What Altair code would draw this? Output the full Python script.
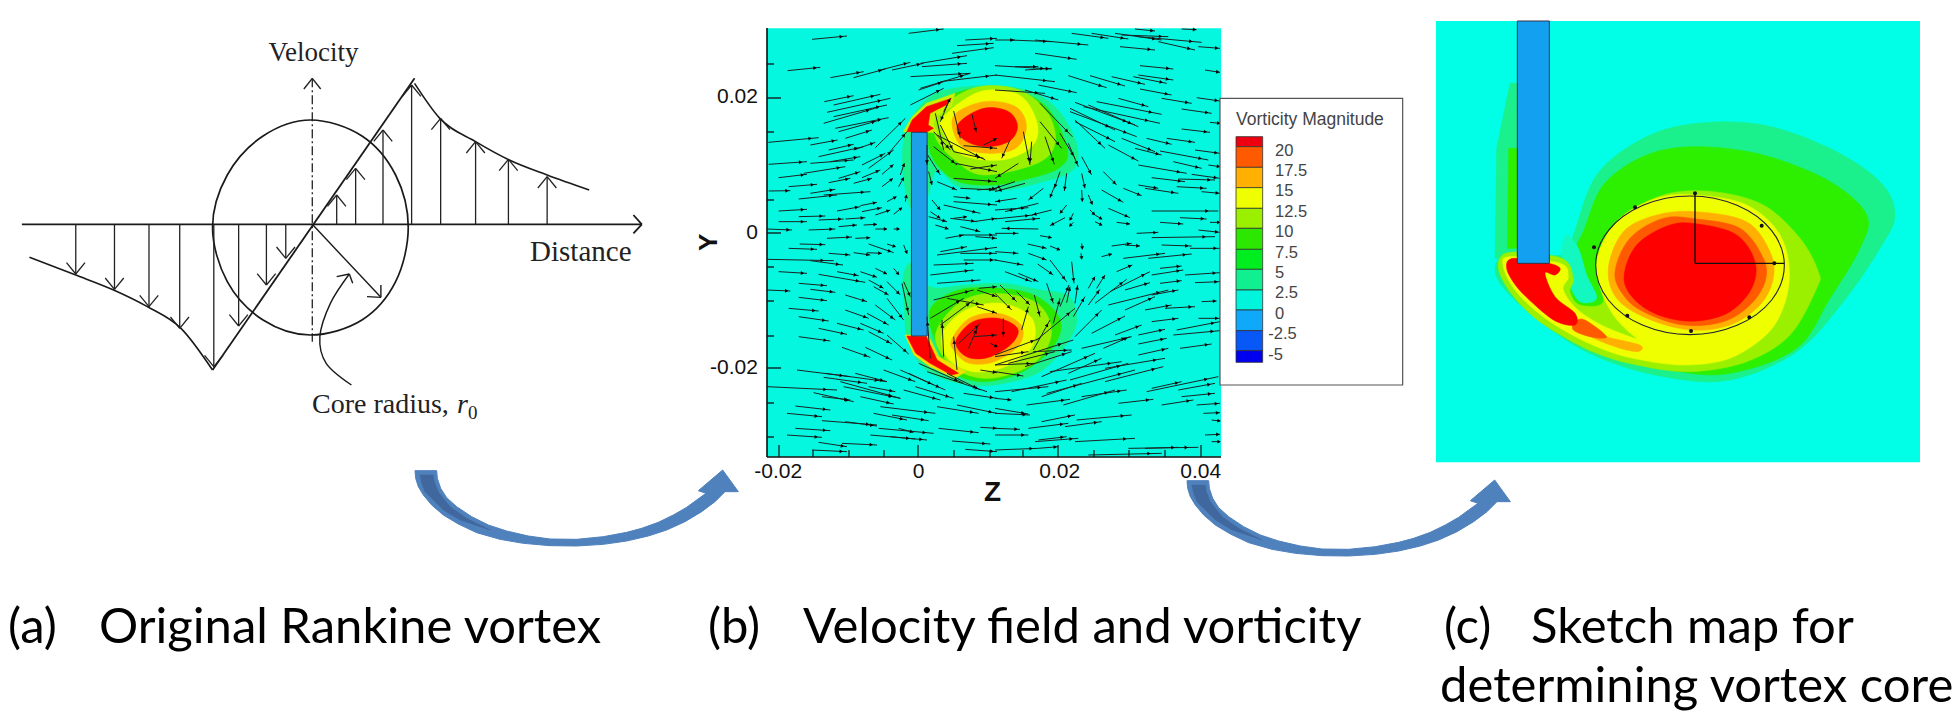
import math
import altair as alt
import pandas as pd

# ---------- panel (a): readings in the crop's own units ----------
A_AXIS = [(52, 613, 1525, 613), (1505, 585, 1525, 613), (1505, 640, 1525, 613)]
A_VAXIS_HEAD = [(722, 207, 742, 175), (762, 207, 742, 175)]
A_VAXIS = [(742, 175), (742, 965)]
A_CIRCLE = [(970, 622), (940, 465), (860, 348), (738, 300), (625, 348), (540, 465), (505, 622),
            (540, 785), (625, 900), (738, 945), (860, 900), (940, 785)]
A_LEFT_CURVE = [(70, 712), (180, 765), (270, 810), (350, 860), (430, 925), (505, 1050)]
A_RIGHT_CURVE = [(985, 190), (1045, 295), (1130, 365), (1210, 420), (1300, 465), (1400, 510)]
A_DIAG = [(505, 1050), (985, 175)]
A_UP = [(800, 525), (845, 445), (910, 330), (978, 195), (1047, 295), (1130, 365), (1208, 418), (1300, 470)]
A_DOWN = [(180, 762), (272, 808), (354, 860), (427, 925), (508, 1040), (567, 918), (633, 795), (679, 715)]
A_RADIUS = [(742, 613, 905, 832), (905, 795, 905, 832), (872, 830, 905, 832)]
A_LEADER = [(835, 1095), (775, 1030), (760, 950), (785, 850), (830, 762)]
A_LEADER_HEAD = [(800, 770, 830, 762), (838, 790, 830, 762)]

# ---------- panel (b) ----------
B_FRAME = [(243, 55, 1515, 1340)]
B_BLADE = [(648, 367, 692, 978)]
B_TICKS_MAJOR_X = [779, 918, 1058, 1201]
B_TICKS_MINOR_X = [813, 849, 884, 954, 990, 1023, 1094, 1129, 1165]
B_TICKS_MAJOR_Y = [98, 233, 368]
B_TICKS_MINOR_Y = [64, 132, 200, 267, 301, 336, 403, 437]
B_CONTOURS = [
    ("#1AF08C", [(625, 400), (640, 340), (700, 260), (800, 230), (950, 235), (1050, 290), (1110, 400), (1100, 480),
                 (1000, 520), (900, 540), (780, 530), (720, 480), (692, 560), (650, 600), (625, 500)]),
    ("#1AF08C", [(625, 800), (650, 760), (700, 830), (800, 825), (900, 820), (1010, 840), (1090, 860), (1110, 940), (1070, 1020),
                 (1000, 1090), (880, 1125), (780, 1120), (690, 1080), (640, 1000), (628, 900)]),
    ("#2CE800", [(700, 300), (800, 240), (930, 240), (1030, 295), (1085, 420), (1060, 475), (980, 505), (880, 525),
                 (780, 515), (720, 465), (695, 400)]),
    ("#2CE800", [(700, 900), (780, 840), (900, 835), (1000, 860), (1065, 930), (1045, 1010), (960, 1085), (850, 1115),
                 (760, 1085), (720, 1010)]),
    ("#9BF000", [(725, 300), (830, 232), (950, 240), (1030, 310), (1050, 400), (1000, 460), (850, 495), (770, 450), (715, 380)]),
    ("#9BF000", [(715, 980), (780, 880), (880, 850), (1000, 880), (1040, 970), (990, 1060), (870, 1105), (770, 1075)]),
    ("#F0FF00", [(738, 320), (840, 245), (950, 255), (1000, 340), (985, 410), (900, 450), (790, 435), (738, 370)]),
    ("#F0FF00", [(735, 970), (800, 900), (900, 880), (985, 925), (985, 1010), (910, 1070), (820, 1085), (750, 1045)]),
    ("#FFB000", [(765, 320), (850, 275), (940, 290), (970, 350), (940, 415), (860, 430), (785, 405)]),
    ("#FFB000", [(760, 990), (810, 925), (890, 910), (955, 945), (950, 1005), (880, 1055), (810, 1060), (770, 1025)]),
    ("#FF0000", [(780, 340), (850, 295), (920, 305), (945, 350), (920, 395), (850, 410), (790, 385)]),
    ("#FF0000", [(775, 985), (820, 935), (890, 925), (945, 955), (930, 1000), (870, 1040), (815, 1045), (780, 1020)]),
]
B_TIPS = [
    ("#C8F000", [(625, 365), (650, 320), (690, 280), (770, 250), (760, 290), (715, 320), (710, 345), (720, 368)]),
    ("#FF0000", [(635, 365), (650, 330), (690, 290), (760, 265), (745, 285), (700, 310), (695, 345), (710, 355), (690, 367)]),
    ("#F0E000", [(630, 975), (695, 975), (725, 1040), (800, 1085), (770, 1105), (700, 1070), (655, 1035)]),
    ("#FF0000", [(635, 978), (690, 980), (720, 1050), (780, 1090), (760, 1095), (700, 1060), (660, 1030)]),
]
# velocity vectors, one list per quarter of the panel
B_ARROWS_TL = [
    (135,43,240,33),(425,25,530,12),(62,137,160,127),(190,158,290,140),(260,158,355,132),(340,135,430,112),(375,135,470,115),
    (460,115,600,92),(465,125,600,115),(430,155,610,145),(460,190,610,145),(455,195,530,170),(430,240,530,190),(520,170,690,150),
    (595,45,690,40),(570,62,680,55),(555,85,680,68),(172,230,260,212),(200,240,340,208),(180,262,370,220),(200,275,360,240),
    (170,295,330,248),(205,310,365,278),(215,320,340,285),(235,340,315,315),(4,352,155,338),(130,360,212,345),(185,375,260,358),
    (155,395,290,365),(260,375,325,352),(130,415,260,405),(5,418,120,410),(190,410,280,395),(285,420,355,385),(325,368,415,280),
    (365,385,420,320),(305,430,380,375),(345,448,380,418),(400,450,412,415),(35,458,120,448),(110,445,235,425),(185,473,250,460),
    (215,460,280,440),(285,458,340,435),(260,475,315,460),(345,485,378,460),(395,485,410,458),(65,485,150,478),(5,498,70,497),
    (130,505,205,493),(95,522,210,510),(170,510,310,500),(360,530,388,515),(415,530,418,512),(35,558,120,553),(210,558,280,545),
    (280,542,330,532),(285,560,345,548),(325,570,370,555),(380,568,405,548),(95,575,175,573),(35,590,120,590),(155,585,230,582),
    (235,582,295,578),(215,605,270,600),(290,600,330,598),(125,615,205,612),(0,612,75,615),(325,612,360,612),(380,612,395,612),
    (180,640,255,636),(265,640,310,638),(560,258,580,340),(615,268,628,322),(590,362,690,370),(650,360,690,340),(505,265,530,375),
    (530,260,550,220),(500,320,550,375),(520,300,560,380),(510,330,655,405),(500,365,570,420),(560,380,650,400),(545,230,520,290),
    (565,415,690,440),(610,432,690,420),(480,360,480,420),(482,390,520,450),(485,440,495,480),(510,470,570,495),(560,460,690,470),
    (580,490,690,495),(630,495,690,490),(560,515,610,520),(560,530,690,540),(530,540,640,565),(495,525,520,555),(490,560,520,580),
    (485,575,540,590),(550,580,630,590),(620,590,690,580),(505,600,545,612),(560,580,600,575),(580,630,690,630),(625,635,690,640),
    (535,640,590,630),(580,605,640,620),
]
B_ARROWS_TR = [
    (0,45,60,45),(45,45,170,50),(120,45,280,60),(230,25,340,40),(290,25,400,42),(360,25,500,45),(420,12,480,18),(560,12,605,14),
    (380,30,520,35),(430,35,620,52),(490,50,600,75),(610,65,675,70),(375,65,480,75),(120,85,245,103),(0,122,170,132),(60,125,130,125),
    (0,150,180,170),(90,135,170,130),(630,135,675,142),(435,122,535,132),(220,152,335,188),(285,152,390,183),(350,155,450,178),
    (430,150,535,165),(415,155,515,175),(435,192,530,210),(500,220,590,235),(605,218,675,228),(0,195,150,205),(130,180,245,203),
    (90,195,190,225),(370,220,460,245),(305,230,500,268),(560,252,650,265),(240,232,420,300),(265,245,495,295),(280,240,430,305),
    (225,250,360,315),(225,260,425,335),(240,285,330,370),(135,235,232,335),(240,290,360,350),(560,312,645,322),(645,292,675,295),
    (455,340,530,358),(515,340,600,352),(380,340,480,380),(340,360,430,408),(420,370,500,390),(495,378,640,405),(600,375,675,385),
    (535,410,620,430),(640,420,675,425),(430,420,575,445),(470,458,570,470),(550,462,660,465),(590,448,675,460),(325,440,365,480),
    (260,395,290,450),(220,355,250,425),(195,325,240,400),(150,335,178,418),(135,290,200,370),(85,320,105,420),(110,350,105,415),
    (45,345,20,400),(260,445,270,490),(385,490,440,512),(430,480,490,490),(450,490,550,505),(545,485,635,490),(620,500,675,505),
    (320,495,385,532),(260,495,262,530),(280,510,292,538),(195,440,178,490),(215,445,208,498),(180,480,165,518),(145,490,100,525),
    (70,415,0,460),(90,475,0,500),(60,470,0,490),(65,520,0,530),(130,535,30,560),(170,555,110,570),(215,540,195,565),(210,578,165,602),
    (235,565,225,585),(235,592,225,602),(285,555,298,568),(300,570,320,582),(300,590,320,600),(340,550,405,578),(365,592,405,597),
    (470,558,670,558),(555,578,635,582),(495,592,565,597),(645,592,675,592),(0,555,100,548),(0,582,115,570),(30,590,135,580),
    (130,612,20,610),(0,625,70,625),(135,632,170,638),(425,625,490,622),(470,638,660,635),(610,615,675,622),
]
B_ARROWS_BL = [
    (98,12,175,14),(65,25,150,28),(185,40,250,45),(260,38,310,45),(305,12,380,38),(300,38,345,40),(360,12,385,20),(410,15,420,40),
    (0,58,200,62),(130,62,228,75),(35,95,120,100),(155,103,295,127),(210,95,275,107),(280,95,330,112),(325,85,360,102),(380,85,395,103),
    (95,130,180,137),(305,120,350,145),(320,140,365,165),(360,125,400,165),(410,125,430,170),(0,150,70,153),(130,148,205,157),
    (95,172,180,182),(235,165,300,185),(360,175,410,240),(405,130,425,225),(65,205,155,213),(235,210,305,235),(325,195,385,240),
    (300,220,365,255),(95,230,185,243),(210,250,290,270),(155,265,240,283),(280,250,350,280),(305,275,375,312),(360,285,425,342),
    (95,290,190,303),(225,322,310,352),(295,322,375,360),(90,390,250,410),(175,400,360,425),(170,412,300,430),(265,400,360,425),
    (220,425,400,475),(350,390,445,425),(400,390,535,450),(425,400,500,435),(0,440,210,450),(140,458,260,485),(165,470,250,480),
    (280,470,380,492),(230,440,400,475),(305,440,385,455),(410,450,520,480),(445,440,560,475),(510,500,635,520),(85,498,190,510),
    (340,500,505,520),(320,520,420,540),(375,525,485,542),(60,520,165,530),(165,542,330,555),(235,545,330,558),(85,565,190,572),
    (335,565,500,580),(515,565,635,578),(60,585,165,592),(395,565,440,577),(310,585,445,597),(370,590,480,600),(155,607,240,620),
    (225,610,330,615),(555,603,670,612),(135,630,240,635),(595,628,690,635),(640,562,690,565),(590,460,690,475),(570,495,690,520),
    (640,390,690,398),(490,355,480,230),(530,350,525,240),(570,390,560,290),(605,325,630,265),(575,310,640,250),(490,235,590,175),
    (520,255,620,180),(500,180,620,150),(510,130,640,120),(490,105,620,90),(500,75,620,70),(510,45,690,22),(580,40,690,40),
    (590,60,690,60),(520,35,600,20),(630,150,690,170),(630,200,690,220),(620,290,690,285),(455,370,590,430),(480,395,660,455),
    (540,400,640,450),(670,310,690,320),(635,145,690,140),(540,175,650,195),
]
B_ARROWS_BR = [
    (98,12,155,25),(165,18,195,30),(0,35,70,40),(100,40,155,60),(165,60,215,125),(128,72,175,105),(0,60,85,75),(230,65,237,130),
    (260,10,262,25),(258,40,260,55),(350,18,410,10),(390,15,435,18),(500,15,590,18),(320,50,350,42),(385,55,510,40),(460,55,590,42),
    (585,25,675,25),(365,95,412,75),(280,145,300,110),(305,145,330,105),(280,195,315,148),(300,190,395,118),(345,155,465,95),
    (470,105,565,90),(495,85,560,78),(570,105,675,98),(600,128,675,125),(495,130,560,122),(390,150,465,128),(340,195,520,150),
    (390,210,480,170),(470,165,550,150),(450,210,530,195),(510,205,600,200),(620,185,665,183),(240,290,320,210),(290,280,390,228),
    (360,285,440,255),(430,285,510,268),(470,245,550,235),(545,270,675,245),(610,235,675,235),(535,285,675,272),(260,325,410,290),
    (325,325,405,290),(430,312,515,295),(430,345,520,325),(555,325,650,312),(25,235,25,290),(80,270,100,200),(118,165,135,230),
    (70,100,130,125),(30,95,110,125),(65,155,105,195),(15,135,65,185),(0,160,50,210),(155,130,175,190),(115,330,165,240),(175,250,195,175),
    (195,200,222,135),(215,188,225,140),(240,190,248,135),(235,230,270,170),(125,300,240,205),(0,345,135,295),(0,375,235,300),
    (0,350,100,335),(40,370,180,335),(115,335,230,330),(90,380,230,335),(0,395,85,408),(0,375,120,370),(140,410,300,340),(220,400,320,355),
    (165,395,380,365),(330,385,510,355),(225,420,400,370),(330,425,505,380),(0,455,160,440),(50,455,215,420),(140,470,260,430),
    (155,460,420,390),(260,470,395,450),(205,495,360,450),(95,495,225,478),(370,490,475,478),(500,495,595,480),(455,455,670,410),
    (470,445,560,425),(550,450,660,430),(0,475,50,480),(0,505,100,522),(0,520,105,525),(560,470,660,460),(605,495,675,490),(625,520,675,518),
    (650,540,675,543),(140,545,240,525),(245,540,410,525),(100,565,220,550),(210,560,320,545),(0,565,75,568),(0,585,100,585),(120,605,250,595),
    (130,600,215,590),(240,605,420,595),(630,585,675,583),(650,605,675,605),(400,625,610,622),(0,630,130,625),(130,625,190,620),
    (280,645,500,640),(450,625,550,622),
]

# ---------- legend ----------
LEGEND_COLORS = ["#EE0010", "#FF5A00", "#FFB000", "#F0FF00", "#9BF000", "#2CE800", "#00EE20", "#10F090",
                 "#00F5DC", "#10A8F8", "#0858F8", "#0000F0"]
LEGEND_EDGES = [140, 170, 232, 293, 355, 415, 478, 538, 600, 660, 722, 782, 817]
LEGEND_LABELS = ["20", "17.5", "15", "12.5", "10", "7.5", "5", "2.5", "0", "-2.5", "-5"]
LEGEND_LABEL_X = [195, 195, 195, 195, 195, 195, 195, 195, 195, 175, 175]
LEGEND_LABEL_Y = [182, 242, 303, 365, 427, 488, 550, 610, 672, 733, 795]

# ---------- panel (c) ----------
C_FRAME = [(18, 18, 1470, 1342)]
C_BLADE = [(262, 18, 358, 745)]
C_CONTOURS = [
    ("#1AF08C", [(195, 730), (200, 400), (240, 205), (270, 205), (270, 730)], "linear-closed"),
    ("#2CF000", [(232, 700), (236, 400), (270, 400), (270, 700)], "linear-closed"),
    ("#1AF08C", [(430, 660), (500, 480), (640, 370), (800, 325), (1000, 330), (1200, 400), (1350, 500), (1395, 600), (1350, 700),
                 (1240, 860), (1100, 1010), (900, 1095), (700, 1085), (500, 1025), (350, 935), (230, 830), (195, 760), (240, 712), (400, 720)], "cardinal-closed"),
    ("#2CF000", [(455, 660), (520, 510), (650, 420), (800, 395), (1000, 420), (1200, 500), (1310, 600), (1290, 700), (1200, 850),
                 (1100, 1000), (900, 1075), (720, 1065), (520, 1008), (380, 925), (250, 815), (205, 755), (262, 718), (400, 730)], "cardinal-closed"),
    ("#12F8C0", [(410, 660), (445, 700), (470, 780), (500, 850), (450, 860), (415, 800), (425, 770), (395, 720)], "cardinal-closed"),
    ("#9BF000", [(205, 755), (240, 830), (310, 905), (400, 965), (500, 1015), (620, 1050), (780, 1070), (950, 1040), (1080, 960), (1160, 820), (1165, 770),
                 (1110, 670), (1000, 570), (850, 530), (700, 540), (560, 620), (497, 750), (520, 860), (450, 870), (420, 830), (430, 790), (395, 730), (240, 712)], "cardinal-closed"),
    ("#F0FF00", [(220, 755), (255, 825), (320, 890), (400, 945), (500, 995), (610, 1030), (760, 1050), (900, 1030), (1000, 960), (900, 950), (700, 985),
                 (560, 950), (450, 890), (400, 825), (415, 785), (390, 745), (240, 725)], "cardinal-closed"),
    ("#F0FF00", [(500, 750), (560, 620), (680, 550), (800, 540), (950, 570), (1050, 660), (1078, 790), (1040, 920), (950, 1000), (800, 1040), (680, 1010), (550, 900)], "cardinal-closed"),
    ("#FFB000", [(535, 760), (580, 650), (680, 600), (800, 590), (950, 620), (1020, 710), (1030, 790), (990, 870), (900, 930), (780, 945), (650, 910), (560, 850)], "cardinal-closed"),
    ("#FF5A00", [(555, 770), (600, 670), (700, 610), (800, 612), (930, 640), (1000, 730), (1005, 800), (960, 870), (880, 920), (760, 930), (640, 890), (580, 840)], "cardinal-closed"),
    ("#FF0000", [(582, 790), (620, 690), (720, 630), (810, 628), (920, 660), (975, 740), (965, 820), (900, 890), (800, 918), (700, 905), (620, 860)], "cardinal-closed"),
    ("#FFB000", [(450, 935), (530, 965), (630, 990), (620, 1010), (540, 990), (440, 945)], "cardinal-closed"),
    ("#FF5A00", [(435, 920), (465, 915), (530, 965), (480, 965), (430, 945)], "cardinal-closed"),
    ("#FF0000", [(230, 760), (250, 730), (355, 745), (390, 760), (375, 780), (345, 775), (375, 845), (435, 895), (435, 930), (380, 920), (320, 875), (260, 815)], "cardinal-closed"),
]
C_CIRCLE = [(1063, 751), (1025, 647), (921, 571), (780, 543), (639, 571), (535, 647), (497, 751),
            (535, 855), (639, 931), (780, 959), (921, 931), (1025, 855)]
C_RADII = [(795, 535, 795, 745), (795, 745, 1063, 745)]
C_DOTS = [(795, 535), (615, 577), (995, 632), (492, 697), (1033, 745), (592, 902), (958, 907), (783, 948)]

# ---------- curved arrows ----------
SWEEP_OUTER = [(45, 62), (47, 85), (55, 110), (70, 135), (95, 165), (130, 195), (175, 222), (230, 248), (300, 268), (370, 280),
               (450, 287), (530, 288), (610, 283), (680, 273), (745, 258), (800, 240), (855, 215), (905, 185), (945, 155), (975, 125),
               (1015, 125), (968, 60), (895, 122), (918, 130), (890, 150), (860, 172), (820, 195), (775, 217), (725, 235), (680, 247),
               (610, 260), (530, 268), (450, 267), (385, 258), (320, 243), (265, 225), (215, 200), (170, 170), (140, 143), (122, 115),
               (112, 85), (110, 62)]
SWEEP_INNER = [(60, 75), (100, 75), (103, 95), (115, 125), (150, 170), (200, 205), (270, 240), (180, 210), (130, 180), (100, 150), (75, 125), (65, 100)]
SWEEP_ORIGINS = [(400, 450), (1172, 460)]

# ---------- texts ----------
A_TEXTS = [("Velocity", 745, 100, 27), ("Distance", 1380, 695, 29)]
CAPTIONS = [("(a)", 8, 643), ("Original Rankine vortex", 99, 643), ("(b)", 708, 643), ("Velocity field and vorticity", 803, 643),
            ("(c)", 1444, 643), ("Sketch map for", 1531, 643), ("determining vortex core", 1440, 702)]
B_X_TICKS = [("-0.02", 275), ("0", 668), ("0.02", 1063), ("0.04", 1458)]
B_Y_TICKS = [("0.02", 262), ("0", 668), ("-0.02", 1073)]


def ca(p, q): return p / 2.376, 20 + q / 3
def cb(p, q): return 680 + p / 2.8, 10 + q / 3
def cl(p, q): return 1210 + p / 3, 90 + q / 3
def cc(p, q): return 1430 + p / 3, 15 + q / 3
def same(p, q): return p, q
def quarter(ox, oy): return lambda p, q: (ox + p / 3, oy + q / 3)


SX = alt.Scale(domain=[8, 1952], nice=False, zero=False)
SY = alt.Scale(domain=[711, 8], nice=False, zero=False)
X = alt.X("x:Q", scale=SX, axis=None)
Y = alt.Y("y:Q", scale=SY, axis=None)
layers = []


def polyline(points, conv, color, width=1.5, interp="linear", fill=None, dash=None):
    rows = [dict(zip("xy", conv(*p)), i=i) for i, p in enumerate(points)]
    kw = dict(interpolate=interp, strokeWidth=width)
    if fill:
        kw["fill"] = fill
    if dash:
        kw["strokeDash"] = dash
    layers.append(alt.Chart(pd.DataFrame(rows)).mark_line(stroke=color, **kw).encode(x=X, y=Y, order="i:Q"))


def segment_rows(segs, conv):
    rows = []
    for a, b, c, d in segs:
        x, y = conv(a, b)
        x2, y2 = conv(c, d)
        rows.append(dict(x=x, y=y, x2=x2, y2=y2))
    return rows


def segments(segs, conv, color, width=1.5):
    layers.append(alt.Chart(pd.DataFrame(segment_rows(segs, conv))).mark_rule(color=color, strokeWidth=width).encode(
        x=X, y=Y, x2="x2:Q", y2="y2:Q"))


def rects(boxes, conv, fill, stroke=None, width=1):
    kw = dict(fill=fill)
    if stroke:
        kw.update(stroke=stroke, strokeWidth=width)
    layers.append(alt.Chart(pd.DataFrame(segment_rows(boxes, conv))).mark_rect(**kw).encode(x=X, y=Y, x2="x2:Q", y2="y2:Q"))


def text(rows, font, size, color="#000", align="center", baseline="middle", **kw):
    layers.append(alt.Chart(pd.DataFrame(rows)).mark_text(font=font, fontSize=size, color=color, align=align,
                                                          baseline=baseline, **kw).encode(x=X, y=Y, text="t:N"))


# panel a
segments(A_AXIS, ca, "#1a1a1a", 1.8)
polyline(A_VAXIS, ca, "#222", 1.3, dash=[9, 3, 2, 3])
segments(A_VAXIS_HEAD, ca, "#222", 1.4)
polyline(A_CIRCLE, ca, "#1a1a1a", 1.7, "cardinal-closed")
polyline(A_LEFT_CURVE, ca, "#1a1a1a", 1.6, "monotone")
polyline(A_RIGHT_CURVE, ca, "#1a1a1a", 1.6, "monotone")
polyline(A_DIAG, ca, "#1a1a1a", 1.8)
arrow_segs = []
for p, q in A_UP:
    arrow_segs += [(p, 613, p, q), (p - 22, q + 34, p, q), (p + 22, q + 34, p, q)]
for p, q in A_DOWN:
    arrow_segs += [(p, 613, p, q), (p - 22, q - 34, p, q), (p + 22, q - 34, p, q)]
segments(arrow_segs, ca, "#222", 1.3)
segments(A_RADIUS, ca, "#1a1a1a", 1.4)
polyline(A_LEADER, ca, "#1a1a1a", 1.4, "cardinal")
segments(A_LEADER_HEAD, ca, "#1a1a1a", 1.4)
text([dict(zip("xy", ca(A_TEXTS[0][1], A_TEXTS[0][2])), t=A_TEXTS[0][0])], "Liberation Serif", A_TEXTS[0][3], "#222")
text([dict(zip("xy", ca(A_TEXTS[1][1], A_TEXTS[1][2])), t=A_TEXTS[1][0])], "Liberation Serif", A_TEXTS[1][3], "#222")
text([dict(x=312, y=413, t="Core radius,")], "Liberation Serif", 28, "#222", align="left", baseline="alphabetic")
text([dict(x=457, y=413, t="r")], "Liberation Serif", 28, "#222", align="left", baseline="alphabetic", fontStyle="italic")
text([dict(x=468, y=419, t="0")], "Liberation Serif", 19, "#222", align="left", baseline="alphabetic")

# panel b
rects(B_FRAME, cb, "#05F7E0")
for color, pts in B_CONTOURS:
    polyline(pts, cb, color, 0.5, "cardinal-closed", fill=color)
for color, pts in B_TIPS:
    polyline(pts, cb, color, 0.5, "linear-closed", fill=color)
rects(B_BLADE, cb, "#1EA0E8", "#224", 0.8)
QUARTERS = [(B_ARROWS_TL, (767, 25)), (B_ARROWS_TR, (995, 25)), (B_ARROWS_BL, (767, 240)), (B_ARROWS_BR, (995, 240))]
heads = []
for arrows, origin in QUARTERS:
    conv = quarter(*origin)
    segments(arrows, conv, "#1a2424", 1.0)
    for row in segment_rows(arrows, conv):
        dx, dy = row["x2"] - row["x"], row["y2"] - row["y"]
        heads.append(dict(x=row["x"] + 0.82 * dx, y=row["y"] + 0.82 * dy, ang=math.degrees(math.atan2(dx, -dy)) % 360))
layers.append(alt.Chart(pd.DataFrame(heads)).mark_point(shape="triangle", filled=True, size=15, color="#050505", opacity=1).encode(
    x=X, y=Y, angle=alt.Angle("ang:Q", scale=None)))
segments([(767, 28, 767, 457), (767, 457, 1221, 457)], same, "#111", 1.6)
segments([(p, 457, p, 445) for p in B_TICKS_MAJOR_X] + [(p, 457, p, 450) for p in B_TICKS_MINOR_X], same, "#111", 1.2)
segments([(767, q, 781, q) for q in B_TICKS_MAJOR_Y] + [(767, q, 774, q) for q in B_TICKS_MINOR_Y], same, "#111", 1.3)
text([dict(x=cb(p, 0)[0], y=cb(0, 1385)[1], t=t) for t, p in B_X_TICKS], "Liberation Sans", 21, "#111")
text([dict(x=cb(218, 0)[0], y=cb(0, q)[1], t=t) for t, q in B_Y_TICKS], "Liberation Sans", 21, "#111", align="right")
text([dict(zip("xy", cb(875, 1450)), t="Z")], "Liberation Sans", 28, "#111", fontWeight="bold")
text([dict(zip("xy", cb(80, 697)), t="Y")], "Liberation Sans", 26, "#111", fontWeight="bold", angle=270)

# legend
rects([(30, 25, 578, 885)], cl, "#ffffff", "#555", 1.2)
text([dict(zip("xy", cl(78, 90)), t="Vorticity Magnitude")], "Liberation Sans", 17.5, "#444", align="left")
for i, col in enumerate(LEGEND_COLORS):
    rects([(78, LEGEND_EDGES[i], 158, LEGEND_EDGES[i + 1])], cl, col, "#333", 0.8)
text([dict(zip("xy", cl(p, q)), t=t) for t, p, q in zip(LEGEND_LABELS, LEGEND_LABEL_X, LEGEND_LABEL_Y)],
     "Liberation Sans", 16.5, "#444", align="left")

# panel c
rects(C_FRAME, cc, "#00FFE6")
for color, pts, how in C_CONTOURS:
    polyline(pts, cc, color, 0.5, how, fill=color)
rects(C_BLADE, cc, "#14A0F0", "#334", 1)
polyline(C_CIRCLE, cc, "#223", 1.1, "cardinal-closed")
segments(C_RADII, cc, "#111", 1.4)
layers.append(alt.Chart(pd.DataFrame([dict(zip("xy", cc(*p))) for p in C_DOTS])).mark_point(
    shape="circle", filled=True, size=16, color="#111", opacity=1).encode(x=X, y=Y))

# curved arrows
for ox, oy in SWEEP_ORIGINS:
    shift = quarter(ox, oy)
    polyline(SWEEP_OUTER, shift, "#4F81BD", 1, "linear-closed", fill="#4F81BD")
    polyline(SWEEP_INNER, shift, "#41689E", 0.5, "linear-closed", fill="#41689E")

# captions
text([dict(x=p, y=q, t=t) for t, p, q in CAPTIONS], "Lato", 49, "#000", align="left", baseline="alphabetic")

chart = alt.layer(*layers).properties(width=1944, height=703, padding=0, background="#ffffff",
                                      autosize=alt.AutoSizeParams(type="none")).configure_view(stroke=None)
chart.save("out.html", embed_options={"renderer": "svg", "actions": False})
